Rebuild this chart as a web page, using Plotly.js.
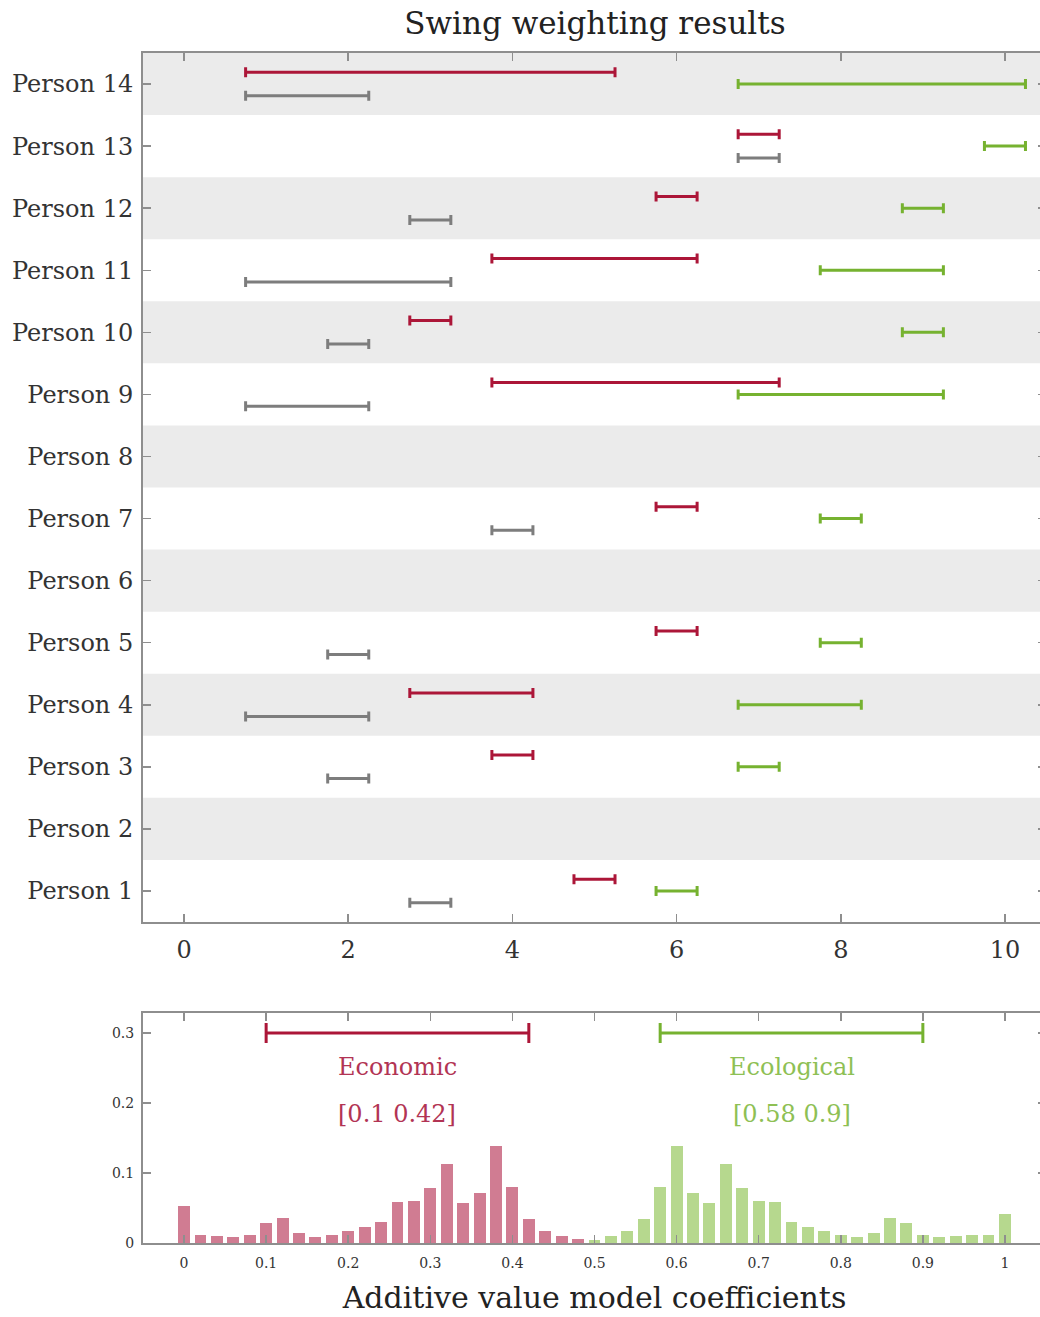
<!DOCTYPE html>
<html>
<head>
<meta charset="utf-8">
<script src="https://cdn.plot.ly/plotly-3.0.1.min.js"></script>
<style>
html,body{margin:0;padding:0;overflow:hidden;background:#fff;}
#chart{width:1050px;height:1317px;}
</style>
</head>
<body>
<div id="chart"></div>
<script>
// ---------- data ----------
const persons = [1,2,3,4,5,6,7,8,9,10,11,12,13,14];
const personLabels = persons.map(p => 'Person ' + p);
// Economic (red) interval
const econLo = [4.75,null,3.75,2.75,5.75,null,5.75,null,3.75,2.75,3.75,5.75,6.75,0.75];
const econHi = [5.25,null,4.25,4.25,6.25,null,6.25,null,7.25,3.25,6.25,6.25,7.25,5.25];
// Ecological (green) interval
const ecolLo = [5.75,null,6.75,6.75,7.75,null,7.75,null,6.75,8.75,7.75,8.75,9.75,6.75];
const ecolHi = [6.25,null,7.25,8.25,8.25,null,8.25,null,9.25,9.25,9.25,9.25,10.25,10.25];
// Gray interval
const grayLo = [2.75,null,1.75,0.75,1.75,null,3.75,null,0.75,1.75,0.75,2.75,6.75,0.75];
const grayHi = [3.25,null,2.25,2.25,2.25,null,4.25,null,2.25,2.25,3.25,3.25,7.25,2.25];
const topTicks = [0,2,4,6,8,10];

// Histogram of additive value model coefficients
const econBins = [0,0.02,0.04,0.06,0.08,0.10,0.12,0.14,0.16,0.18,0.20,0.22,0.24,0.26,0.28,0.30,0.32,0.34,0.36,0.38,0.40,0.42,0.44,0.46,0.48];
const econFreq = [0.053,0.012,0.010,0.008,0.012,0.028,0.036,0.015,0.009,0.012,0.017,0.023,0.030,0.058,0.060,0.078,0.113,0.057,0.071,0.138,0.080,0.034,0.017,0.010,0.006];
const ecolBins = [0.50,0.52,0.54,0.56,0.58,0.60,0.62,0.64,0.66,0.68,0.70,0.72,0.74,0.76,0.78,0.80,0.82,0.84,0.86,0.88,0.90,0.92,0.94,0.96,0.98,1.00];
const ecolFreq = [0.004,0.010,0.017,0.034,0.080,0.138,0.071,0.057,0.113,0.078,0.060,0.059,0.030,0.023,0.017,0.012,0.009,0.015,0.036,0.028,0.012,0.008,0.010,0.012,0.012,0.042];
const econRange = [0.1, 0.42];
const ecolRange = [0.58, 0.9];
const bottomXTicks = [0,0.1,0.2,0.3,0.4,0.5,0.6,0.7,0.8,0.9,1];
const bottomYTicks = [0,0.1,0.2,0.3];

// ---------- styles ----------
const RED = 'rgb(172,22,56)';
const GREEN = 'rgb(118,178,48)';
const GRAY = 'rgb(125,125,125)';
const FONT = 'DejaVu Serif, Liberation Serif, serif';
const TXT = '#333';
const AX = '#8e8e8e';
const OFF = 0.19;

function intervalTrace(lo, hi, off, color, capW) {
  const x = [], y = [], e = [];
  persons.forEach((p, i) => {
    if (lo[i] === null) return;
    x.push((lo[i] + hi[i]) / 2);
    y.push(p + off);
    e.push((hi[i] - lo[i]) / 2);
  });
  return {
    type: 'scatter', mode: 'markers', x, y, xaxis: 'x', yaxis: 'y',
    marker: {size: 1, opacity: 0},
    error_x: {type: 'data', array: e, symmetric: true, color, thickness: 3, width: capW},
    hoverinfo: 'skip', showlegend: false
  };
}

const traces = [
  intervalTrace(econLo, econHi, OFF, RED, 5),
  intervalTrace(ecolLo, ecolHi, 0, GREEN, 5),
  intervalTrace(grayLo, grayHi, -OFF, GRAY, 5),
  {type: 'bar', x: econBins, y: econFreq, xaxis: 'x2', yaxis: 'y2', width: 0.0145,
   marker: {color: 'rgb(208,124,146)', line: {width: 0}}, showlegend: false, hoverinfo: 'skip'},
  {type: 'bar', x: ecolBins, y: ecolFreq, xaxis: 'x2', yaxis: 'y2', width: 0.0145,
   marker: {color: 'rgb(182,216,142)', line: {width: 0}}, showlegend: false, hoverinfo: 'skip'},
  {type: 'scatter', mode: 'markers', xaxis: 'x2', yaxis: 'y2',
   x: [(econRange[0] + econRange[1]) / 2], y: [0.3], marker: {size: 1, opacity: 0},
   error_x: {type: 'data', array: [(econRange[1] - econRange[0]) / 2], color: RED, thickness: 3, width: 10},
   showlegend: false, hoverinfo: 'skip'},
  {type: 'scatter', mode: 'markers', xaxis: 'x2', yaxis: 'y2',
   x: [(ecolRange[0] + ecolRange[1]) / 2], y: [0.3], marker: {size: 1, opacity: 0},
   error_x: {type: 'data', array: [(ecolRange[1] - ecolRange[0]) / 2], color: GREEN, thickness: 3, width: 10},
   showlegend: false, hoverinfo: 'skip'}
];

const shapes = persons.filter(p => p % 2 === 0).map(p => ({
  type: 'rect', xref: 'x domain', yref: 'y', x0: 0, x1: 1, y0: p - 0.5, y1: p + 0.5,
  fillcolor: '#ebebeb', line: {width: 0}, layer: 'below'
}));

const W = 1050, H = 1317;
const xd = [143 / W, 1046 / W];
const axisCommon = {
  showline: true, linecolor: AX, linewidth: 2, mirror: 'ticks',
  ticks: 'inside', ticklen: 8, tickcolor: AX, tickwidth: 1.5,
  showgrid: false, zeroline: false, fixedrange: true
};

const layout = {
  width: W, height: H,
  margin: {l: 0, r: 0, t: 0, b: 0},
  paper_bgcolor: '#fff', plot_bgcolor: 'rgba(0,0,0,0)',
  font: {family: FONT, color: TXT},
  title: {text: 'Swing weighting results', font: {family: FONT, size: 31, color: '#222'},
          xref: 'container', x: 595 / W, xanchor: 'center',
          yref: 'container', y: 1 - 23 / H, yanchor: 'middle'},
  bargap: 0,
  xaxis: Object.assign({}, axisCommon, {
    domain: xd, anchor: 'y', range: [-0.5, 10.5],
    tickmode: 'array', tickvals: topTicks, ticktext: topTicks.map(String),
    tickfont: {family: FONT, size: 24, color: TXT}, ticklabelstandoff: 5
  }),
  yaxis: Object.assign({}, axisCommon, {
    domain: [1 - 922 / H, 1 - 53 / H], anchor: 'x', range: [0.5, 14.5],
    tickmode: 'array', tickvals: persons, ticktext: personLabels,
    tickfont: {family: FONT, size: 24, color: TXT}, ticklabelstandoff: 3
  }),
  xaxis2: Object.assign({}, axisCommon, {
    domain: xd, anchor: 'y2', range: [-0.05, 1.05],
    tickmode: 'array', tickvals: bottomXTicks, ticktext: bottomXTicks.map(String),
    tickfont: {family: FONT, size: 14, color: TXT}, ticklabelstandoff: 6,
    title: {text: 'Additive value model coefficients', font: {family: FONT, size: 30, color: '#222'}, standoff: 17}
  }),
  yaxis2: Object.assign({}, axisCommon, {
    domain: [1 - 1243 / H, 1 - 1013 / H], anchor: 'x2', range: [0, 0.3286],
    tickmode: 'array', tickvals: bottomYTicks, ticktext: bottomYTicks.map(String),
    tickfont: {family: FONT, size: 14, color: TXT}, ticklabelstandoff: 4
  }),
  shapes: shapes,
  annotations: [
    {xref: 'x2', yref: 'y2', x: (econRange[0] + econRange[1]) / 2, y: 0.251, text: 'Economic',
     showarrow: false, font: {family: FONT, size: 24, color: 'rgb(178,52,84)'}},
    {xref: 'x2', yref: 'y2', x: (econRange[0] + econRange[1]) / 2, y: 0.184,
     text: '[' + econRange[0] + ' ' + econRange[1] + ']',
     showarrow: false, font: {family: FONT, size: 24, color: 'rgb(178,52,84)'}},
    {xref: 'x2', yref: 'y2', x: (ecolRange[0] + ecolRange[1]) / 2, y: 0.251, text: 'Ecological',
     showarrow: false, font: {family: FONT, size: 24, color: 'rgb(142,192,84)'}},
    {xref: 'x2', yref: 'y2', x: (ecolRange[0] + ecolRange[1]) / 2, y: 0.184,
     text: '[' + ecolRange[0] + ' ' + ecolRange[1] + ']',
     showarrow: false, font: {family: FONT, size: 24, color: 'rgb(142,192,84)'}}
  ]
};

Plotly.newPlot('chart', traces, layout, {staticPlot: true, displayModeBar: false});
</script>
</body>
</html>
